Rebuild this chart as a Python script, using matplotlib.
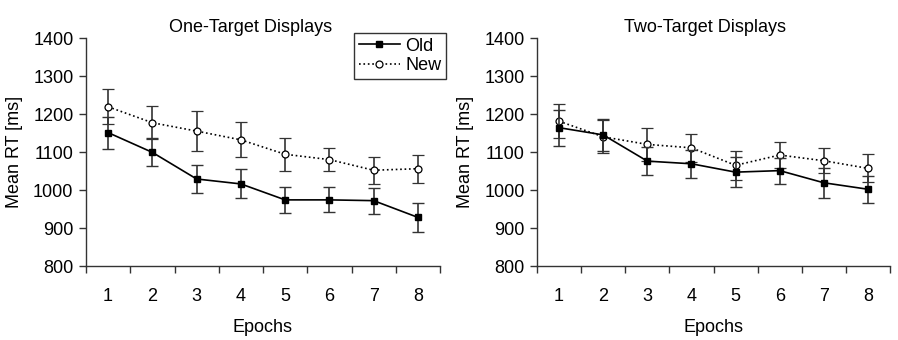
import matplotlib
matplotlib.use("Agg")
import matplotlib.pyplot as plt
from matplotlib.lines import Line2D
import numpy as np

plt.rcParams['font.family'] = ['Liberation Sans', 'DejaVu Sans']

epochs = [1, 2, 3, 4, 5, 6, 7, 8]

one_old = [1151, 1099, 1029, 1016, 974, 974, 972, 928]
one_old_err = [42, 37, 37, 38, 35, 33, 34, 38]
one_new = [1219, 1177, 1155, 1132, 1094, 1080, 1052, 1056]
one_new_err = [46, 44, 52, 46, 44, 31, 35, 37]

two_old = [1164, 1145, 1076, 1069, 1047, 1051, 1019, 1002]
two_old_err = [47, 43, 36, 37, 40, 34, 40, 36]
two_new = [1181, 1140, 1120, 1111, 1065, 1092, 1077, 1057]
two_new_err = [45, 43, 44, 37, 38, 34, 33, 37]

titles = ["One-Target Displays", "Two-Target Displays"]
yticks = [800, 900, 1000, 1100, 1200, 1300, 1400]

FS = 13

fig = plt.figure(figsize=(8.98, 3.40), dpi=100)
H = 340.0
W = 898.0
ax1 = fig.add_axes([86 / W, (H - 266) / H, 354 / W, 228 / H])
ax2 = fig.add_axes([537 / W, (H - 266) / H, 353 / W, 228 / H])

datasets = [
    (ax1, one_old, one_old_err, one_new, one_new_err, titles[0], 251),
    (ax2, two_old, two_old_err, two_new, two_new_err, titles[1], 705),
]

for ax, old, olde, new, newe, title, tx in datasets:
    ax.errorbar(epochs, new, yerr=newe, color='black', ecolor='#333333',
                elinewidth=1.2, capsize=4.5, capthick=1.0, linestyle=':',
                linewidth=1.2, marker='o', markersize=5, markerfacecolor='white',
                markeredgecolor='black', markeredgewidth=0.9, zorder=3)
    ax.errorbar(epochs, old, yerr=olde, color='black', ecolor='#333333',
                elinewidth=1.2, capsize=4.5, capthick=1.0, linestyle='-',
                linewidth=1.2, marker='s', markersize=5, markerfacecolor='black',
                markeredgecolor='black', zorder=4)
    ax.set_xlim(0.5, 8.5)
    ax.set_ylim(800, 1400)
    ax.set_yticks(yticks)
    ax.set_xticks(np.arange(0.5, 9.0, 1.0))
    ax.set_xticklabels([])
    ax.set_xticks(epochs, minor=True)
    ax.set_xticklabels([str(e) for e in epochs], minor=True)
    ax.tick_params(axis='x', which='minor', length=0, pad=16, labelsize=FS)
    ax.tick_params(axis='x', which='major', length=5, width=1, color='#333333')
    ax.tick_params(axis='y', length=5, width=1, labelsize=FS, color='#333333', pad=4)
    for s in ['top', 'right']:
        ax.spines[s].set_visible(False)
    for s in ['left', 'bottom']:
        ax.spines[s].set_color('#333333')
        ax.spines[s].set_linewidth(1)
    ax.set_xlabel("Epochs", fontsize=FS, labelpad=10)
    ax.set_ylabel("Mean RT [ms]", fontsize=FS, labelpad=7)
    fig.text(tx / W, (H - 27) / H, title, fontsize=FS, ha='center', va='center')

h_old = Line2D([], [], color='black', linestyle='-', linewidth=1.2, marker='s',
               markersize=5, markerfacecolor='black')
h_new = Line2D([], [], color='black', linestyle=':', linewidth=1.2, marker='o',
               markersize=5, markerfacecolor='white', markeredgewidth=0.9)
leg = fig.legend([h_old, h_new], ['Old', 'New'],
                 loc='upper left', bbox_to_anchor=(354 / W, (H - 33) / H),
                 frameon=True, fancybox=False, edgecolor='black', fontsize=FS,
                 handlelength=2.3, borderpad=0.25, labelspacing=0.15,
                 handletextpad=0.3, borderaxespad=0.0)
leg.get_frame().set_linewidth(1.0)

fig.savefig("out.png", dpi=100, facecolor='white')
